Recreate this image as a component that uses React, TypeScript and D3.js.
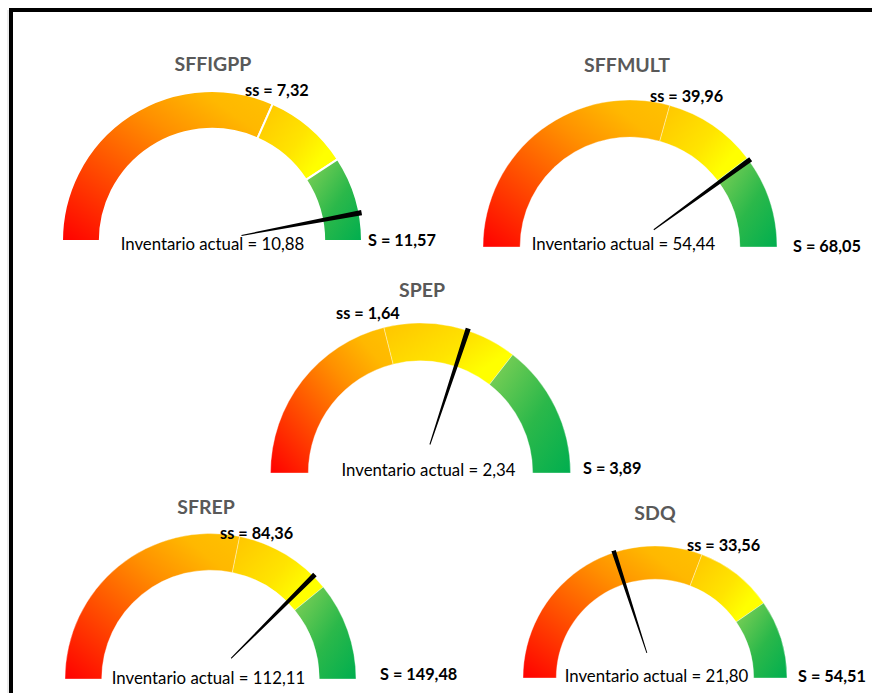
import React from "react";
import * as d3 from "d3";

// Inventory levels per product line
const gaugeNames = ["SFFIGPP", "SFFMULT", "SPEP", "SFREP", "SDQ"];
const safetyStock = [7.32, 39.96, 1.64, 84.36, 33.56];
const maxStock = [11.57, 68.05, 3.89, 149.48, 54.51];
const currentStock = [10.88, 54.44, 2.34, 112.11, 21.8];

// Placement of each dial on the sheet (centre, outer radius, label anchors)
const layout = [
  { cx: 212, cy: 241, r: 150, title: [213, 70.5], ss: [245, 96], s: [368, 246], inv: [212.5, 250], sep: 2 },
  { cx: 630, cy: 247, r: 147, title: [627, 72], ss: [650, 101.5], s: [793, 252], inv: [623.5, 250], sep: 0.6 },
  { cx: 420.5, cy: 473, r: 150, title: [422, 297], ss: [336, 319], s: [583, 474], inv: [428.5, 476], sep: 0.6 },
  { cx: 210.5, cy: 679, r: 145.5, title: [206, 514], ss: [220, 539], s: [380, 680], inv: [208.5, 684], sep: 0.6 },
  { cx: 655, cy: 678, r: 132, title: [655, 519.5], ss: [687, 550.5], s: [798, 681.5], inv: [656.5, 682], sep: 0.6 },
];

const fmt = (v: number) => d3.format(".2f")(v).replace(".", ",");
const FONT = "Lato, 'Noto Sans', sans-serif";

function Gauge({ i }: { i: number }) {
  const L = layout[i];
  const ss = safetyStock[i];
  const S = maxStock[i];
  const cur = currentStock[i];
  const mid = (ss + S) / 2;
  const angle = d3.scaleLinear().domain([0, S]).range([-Math.PI / 2, Math.PI / 2]);
  const inner = L.r * 0.748;
  const band = d3.arc<{ a: number; b: number }>()
    .innerRadius(inner)
    .outerRadius(L.r)
    .startAngle((d) => angle(d.a))
    .endAngle((d) => angle(d.b));
  const segments = [
    { a: 0, b: ss, fill: `url(#g1-${i})` },
    { a: ss, b: mid, fill: `url(#g2-${i})` },
    { a: mid, b: S, fill: `url(#g3-${i})` },
  ];
  const half = 0.017;
  const needle = d3.arc<number>()
    .innerRadius(L.r * 0.2)
    .outerRadius(L.r * 1.015)
    .startAngle((v) => angle(v) - half)
    .endAngle((v) => angle(v) + half);

  return (
    <g>
      <defs>
        <linearGradient id={`g1-${i}`} x1="0" y1="1" x2="1" y2="0">
          <stop offset="0" stopColor="#ff0000" />
          <stop offset="0.32" stopColor="#ff4a00" />
          <stop offset="0.62" stopColor="#ff9000" />
          <stop offset="0.83" stopColor="#ffb800" />
          <stop offset="1" stopColor="#ffc200" />
        </linearGradient>
        <linearGradient id={`g2-${i}`} x1="0" y1="0.15" x2="1" y2="0.85">
          <stop offset="0" stopColor="#ffc800" />
          <stop offset="0.5" stopColor="#ffe400" />
          <stop offset="0.8" stopColor="#ffff00" />
          <stop offset="1" stopColor="#ffff00" />
        </linearGradient>
        <linearGradient id={`g3-${i}`} x1="0" y1="0" x2="1" y2="1">
          <stop offset="0" stopColor="#86d257" />
          <stop offset="0.55" stopColor="#2bb84a" />
          <stop offset="1" stopColor="#00ae4f" />
        </linearGradient>
      </defs>
      <g transform={`translate(${L.cx},${L.cy})`}>
        {segments.map((s, k) => (
          <path
            key={k}
            d={band(s) || ""}
            fill={s.fill}
            stroke="#ffffff"
            strokeWidth={L.sep}
            strokeOpacity={L.sep > 1 ? 1 : 0.6}
          />
        ))}
        <path d={needle(cur) || ""} fill="#000000" />
      </g>
      <text x={L.title[0]} y={L.title[1]} textAnchor="middle" fontFamily={FONT} fontWeight={700} fontSize={19.5} fill="#595959">
        {gaugeNames[i]}
      </text>
      <text x={L.ss[0]} y={L.ss[1]} fontFamily={FONT} fontWeight={700} fontSize={16.3} fill="#000000">
        {`ss = ${fmt(ss)}`}
      </text>
      <text x={L.s[0]} y={L.s[1]} fontFamily={FONT} fontWeight={700} fontSize={16.3} fill="#000000">
        {`S = ${fmt(S)}`}
      </text>
      <text x={L.inv[0]} y={L.inv[1]} textAnchor="middle" fontFamily={FONT} fontSize={16.8} fill="#000000">
        {`Inventario actual = ${fmt(cur)}`}
      </text>
    </g>
  );
}

export default function App() {
  return (
    <svg
      width={872}
      height={693}
      style={{ position: "absolute", left: 0, top: 0, display: "block", background: "#ffffff" }}
    >
      <rect x={0} y={0} width={872} height={693} fill="#ffffff" />
      <line x1={8} y1={10} x2={8} y2={693} stroke="#d9d9d9" strokeWidth={1} />
      <rect x={11} y={10} width={900} height={720} fill="none" stroke="#000000" strokeWidth={4} />
      {gaugeNames.map((_, i) => (
        <Gauge key={i} i={i} />
      ))}
    </svg>
  );
}
